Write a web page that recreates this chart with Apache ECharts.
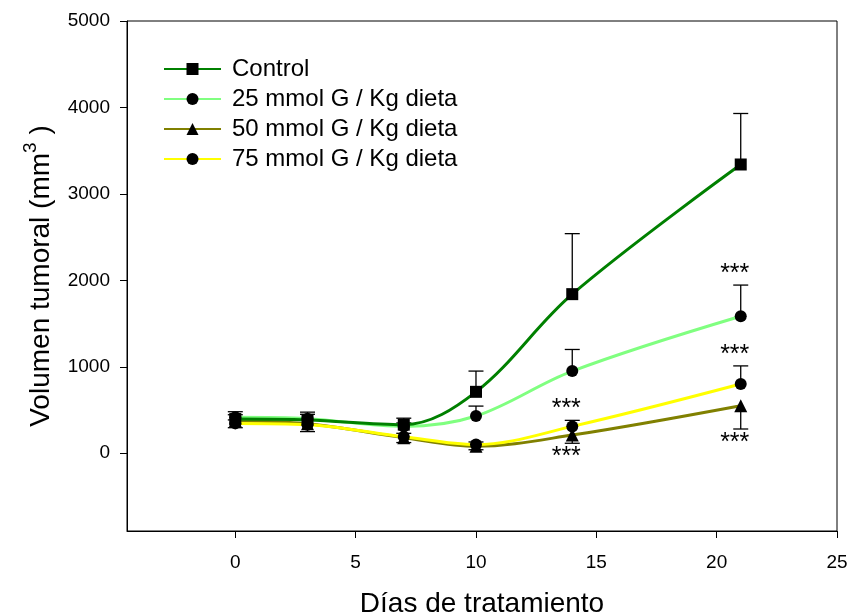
<!DOCTYPE html>
<html>
<head>
<meta charset="utf-8">
<title>Volumen tumoral</title>
<script src="https://cdn.jsdelivr.net/npm/echarts@6/dist/echarts.min.js"></script>
<style>
  html, body { margin: 0; padding: 0; background: #fff; }
  #chart { width: 850px; height: 616px; }
</style>
</head>
<body>
<div id="chart"></div>
<script>
// Treatment days
const days = [0, 3, 7, 10, 14, 21];

// Mean tumour volume (mm3) per group, with standard error
const control    = [395, 385, 330, 710, 1840, 3340];
const controlErr = [50, 90, 75, 240, 700, 590];
const g25        = [415, 400, 310, 430, 950, 1585];
const g25Err     = [65, 50, 40, 115, 250, 360];
const g50        = [375, 340, 180, 80, 210, 550];
const g50Err     = [80, 90, 57, 40, 95, 270];
const g75        = [345, 330, 190, 100, 310, 800];
const g75Err     = [40, 50, 40, 30, 70, 210];

// Group names and colours
const names  = ['Control', '25 mmol G / Kg dieta', '50 mmol G / Kg dieta', '75 mmol G / Kg dieta'];
const colors = ['#008000', '#80ff80', '#808000', '#ffff00'];
const symbols = ['rect', 'circle', 'triangle', 'circle'];

// Tick labels
const xTicks = [0, 5, 10, 15, 20, 25];
const yTicks = [0, 1000, 2000, 3000, 4000, 5000];

// Significance marks: [group index, day index, side (+1 above, -1 below)]
const stars = [[1, 5, 1], [3, 4, 1], [3, 5, 1], [2, 4, -1], [2, 5, -1]];

const groups = [
  { v: control, e: controlErr, dir: 1 },
  { v: g25, e: g25Err, dir: 1 },
  { v: g50, e: g50Err, dir: -1 },
  { v: g75, e: g75Err, dir: 1 }
];

const FONT = "'Liberation Sans', Arial, sans-serif";

const chart = echarts.init(document.getElementById('chart'), null, { renderer: 'canvas' });

function errRender(params, api) {
  const x = api.value(0), v = api.value(1), e = api.value(2), d = api.value(3);
  const p0 = api.coord([x, v]);
  const p1 = api.coord([x, v + d * e]);
  const hw = 7.5;
  const st = { stroke: '#000', lineWidth: 1.3 };
  return {
    type: 'group',
    children: [
      { type: 'line', shape: { x1: p0[0], y1: p0[1], x2: p1[0], y2: p1[1] }, style: st },
      { type: 'line', shape: { x1: p1[0] - hw, y1: p1[1], x2: p1[0] + hw, y2: p1[1] }, style: st }
    ]
  };
}

function starRender(params, api) {
  const x = api.value(0), yEnd = api.value(1), d = api.value(2);
  const p = api.coord([x, yEnd]);
  return {
    type: 'text',
    x: p[0] - 6,
    y: d > 0 ? p[1] - 11 : p[1] + 14,
    style: {
      text: '***',
      font: '25px ' + FONT,
      fill: '#000',
      align: 'center',
      verticalAlign: 'middle'
    }
  };
}

// Draw order: light green, olive, yellow, then control on top
const drawOrder = [1, 2, 3, 0];

const series = [];

// Error bars beneath the curves
groups.forEach((g, i) => {
  series.push({
    type: 'custom',
    name: 'err' + i,
    renderItem: errRender,
    data: days.map((d, k) => [d, g.v[k], g.e[k], g.dir]),
    encode: { x: 0, y: 1 },
    z: 1,
    silent: true
  });
});

drawOrder.forEach((i) => {
  const g = groups[i];
  series.push({
    type: 'line',
    name: names[i],
    data: days.map((d, k) => [d, g.v[k]]),
    smooth: 0.35,
    symbol: symbols[i],
    symbolSize: symbols[i] === 'triangle' ? 13 : 12,
    showSymbol: true,
    lineStyle: { color: colors[i], width: 3 },
    itemStyle: { color: '#000' },
    z: 2
  });
});

series.push({
  type: 'custom',
  name: 'stars',
  renderItem: starRender,
  data: stars.map(([gi, di, side]) => {
    const g = groups[gi];
    return [days[di], g.v[di] + side * g.e[di], side];
  }),
  encode: { x: 0, y: 1 },
  z: 5,
  silent: true
});

const plainNum = (v) => String(v);

const option = {
  animation: false,
  backgroundColor: '#fff',
  textStyle: { fontFamily: FONT },
  grid: {
    left: 127, right: 13, top: 21, bottom: 85,
    containLabel: false,
    outerBoundsMode: 'none',
    show: true, borderColor: '#000', borderWidth: 1, backgroundColor: 'transparent'
  },
  legend: {
    data: names,
    orient: 'vertical',
    left: 163,
    top: 57,
    padding: 0,
    itemWidth: 57,
    itemHeight: 15,
    itemGap: 6,
    textStyle: { fontSize: 24, fontFamily: FONT, color: '#000', lineHeight: 24, padding: [0, 0, 0, 6] },
    selectedMode: false
  },
  xAxis: {
    type: 'value',
    min: -4.5,
    max: 25,
    name: 'Días de tratamiento',
    nameLocation: 'middle',
    nameGap: 59,
    nameTextStyle: { fontSize: 28, fontFamily: FONT, color: '#000' },
    axisLine: { show: true, onZero: false, lineStyle: { color: '#000', width: 1 } },
    axisTick: { show: true, inside: false, length: 7, lineStyle: { color: '#000' }, customValues: xTicks },
    axisLabel: { fontSize: 19, color: '#000', fontFamily: FONT, margin: 22, customValues: xTicks, formatter: plainNum },
    splitLine: { show: false }
  },
  yAxis: {
    type: 'value',
    min: -900,
    max: 5000,
    name: '{t|Volumen tumoral (mm}{s|3}{t| )}',
    nameLocation: 'middle',
    nameGap: 72,
    nameTextStyle: {
      fontFamily: FONT,
      color: '#000',
      rich: {
        t: { fontSize: 28, fontFamily: FONT, color: '#000', lineHeight: 34, verticalAlign: 'bottom' },
        s: { fontSize: 19, fontFamily: FONT, color: '#000', lineHeight: 19, verticalAlign: 'top' }
      }
    },
    axisLine: { show: true, onZero: false, lineStyle: { color: '#000', width: 1 } },
    axisTick: { show: true, inside: false, length: 7, lineStyle: { color: '#000' }, customValues: yTicks },
    axisLabel: { fontSize: 19, color: '#000', fontFamily: FONT, margin: 17, customValues: yTicks, formatter: plainNum },
    splitLine: { show: false }
  },
  series: series
};

chart.setOption(option);
</script>
</body>
</html>
